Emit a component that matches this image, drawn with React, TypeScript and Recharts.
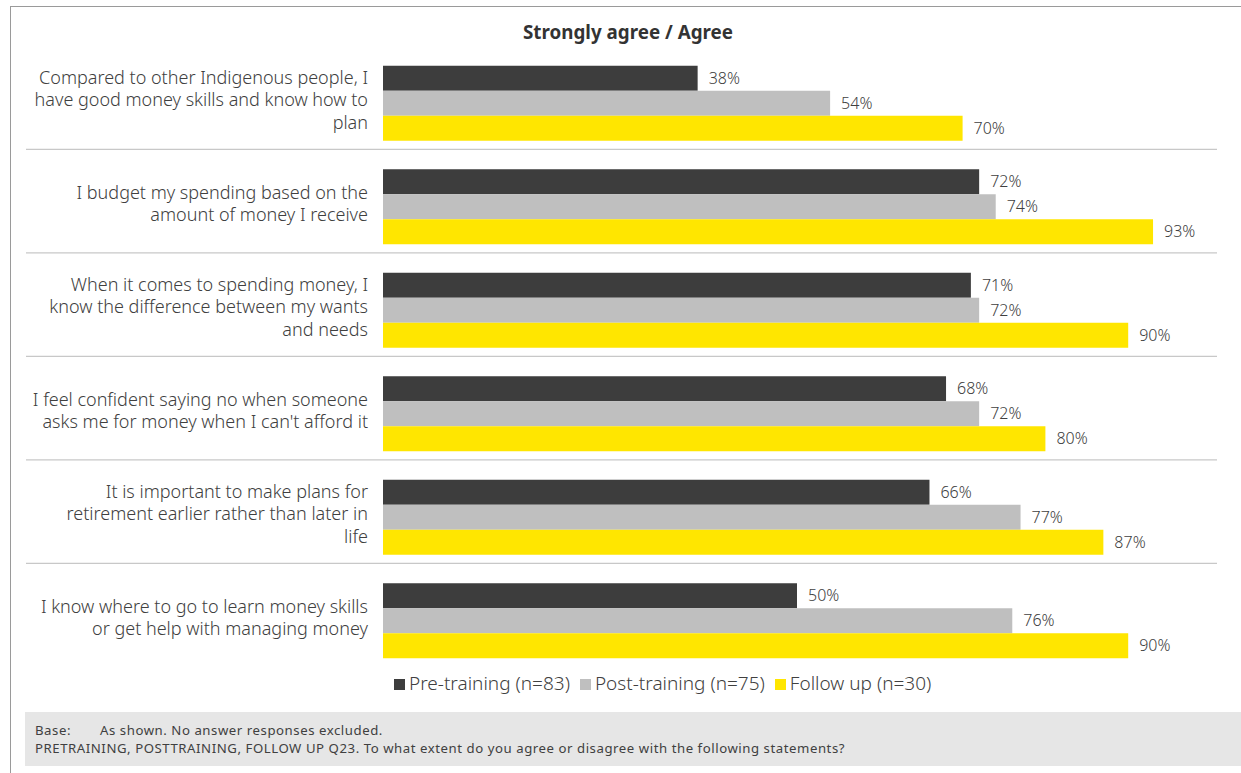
import {
  Bar,
  BarChart,
  CartesianGrid,
  LabelList,
  Legend,
  XAxis,
  YAxis,
} from 'recharts'

const statements = [
  'Compared to other Indigenous people, I\nhave good money skills and know how to\nplan',
  'I budget my spending based on the\namount of money I receive',
  'When it comes to spending money, I\nknow the difference between my wants\nand needs',
  'I feel confident saying no when someone\nasks me for money when I can\'t afford it',
  'It is important to make plans for\nretirement earlier rather than later in\nlife',
  'I know where to go to learn money skills\nor get help with managing money',
]

const preTraining = [38, 72, 71, 68, 66, 50]
const postTraining = [54, 74, 72, 72, 77, 76]
const followUp = [70, 93, 90, 80, 87, 90]

const seriesNames = ['Pre-training (n=83)', 'Post-training (n=75)', 'Follow up (n=30)']

const FONT = "'Noto Sans', sans-serif"
const TEXT = '#404040'

const data = statements.map((s, i) => ({
  statement: s,
  pre: preTraining[i],
  post: postTraining[i],
  follow: followUp[i],
}))

function StatementTick(props: any) {
  const { x, y, payload } = props
  const lines = String(payload.value).split('\n')
  const lineH = 22.5
  const base = y + 3.5 - ((lines.length - 1) / 2) * lineH
  return (
    <text x={x - 7} y={base} textAnchor="end" fill={TEXT} fontSize={18} fontWeight={300} fontFamily={FONT}>
      {lines.map((l, i) => (
        <tspan key={i} x={x - 7} y={base + i * lineH}>
          {l}
        </tspan>
      ))}
    </text>
  )
}

// separators sit just above each group boundary (one band per statement)
const separatorLines = (props: any) => {
  const { offset } = props
  const band = offset.height / statements.length
  return statements.slice(1).map((_, i) => offset.top + band * (i + 1) - band * 0.05)
}

const pct = (v: any) => `${v}%`

export default function App() {
  return (
    <div
      style={{
        position: 'absolute',
        left: 0,
        top: 0,
        width: 1241,
        height: 773,
        background: '#fff',
        fontFamily: FONT,
        overflow: 'hidden',
      }}
    >
      <div
        style={{
          position: 'absolute',
          left: 10,
          top: 6,
          width: 1240,
          height: 780,
          borderLeft: '1px solid #9a9a9a',
          borderTop: '1px solid #9a9a9a',
        }}
      />
      <div
        style={{
          position: 'absolute',
          left: 383,
          width: 490,
          top: 19,
          textAlign: 'center',
          fontWeight: 700,
          fontSize: 18.8,
          color: '#333',
        }}
      >
        Strongly agree / Agree
      </div>
      <div style={{ position: 'absolute', left: 0, top: 0 }}>
        <BarChart
          width={1241}
          height={700}
          data={data}
          layout="vertical"
          margin={{ top: 51, right: 30, left: 0, bottom: 28 }}
          barCategoryGap={14.7}
          barGap={0}
          style={{ fontFamily: FONT }}
        >
          <CartesianGrid
            vertical={false}
            x={26}
            width={1191}
            stroke="#c8c8c8"
            strokeWidth={1.2}
            horizontalCoordinatesGenerator={separatorLines}
          />
          <XAxis type="number" domain={[0, 100]} hide />
          <YAxis
            type="category"
            dataKey="statement"
            width={383}
            axisLine={false}
            tickLine={false}
            tick={<StatementTick />}
            interval={0}
          />
          <Legend
            verticalAlign="middle"
            layout="horizontal"
            iconType="square"
            iconSize={11}
            itemSorter={(item: any) => seriesNames.indexOf(item.value)}
            wrapperStyle={{ top: 670, left: 394, width: 'auto', fontSize: 19, fontWeight: 300 }}
            formatter={(value: any) => <span style={{ color: TEXT }}>{value}</span>}
          />
          <Bar dataKey="pre" name={seriesNames[0]} fill="#3d3d3d" isAnimationActive={false}>
            <LabelList dataKey="pre" position="right" offset={11} formatter={pct} fill={TEXT} fontSize={16} fontWeight={300} />
          </Bar>
          <Bar dataKey="post" name={seriesNames[1]} fill="#bfbfbf" isAnimationActive={false}>
            <LabelList dataKey="post" position="right" offset={11} formatter={pct} fill={TEXT} fontSize={16} fontWeight={300} />
          </Bar>
          <Bar dataKey="follow" name={seriesNames[2]} fill="#ffe600" isAnimationActive={false}>
            <LabelList dataKey="follow" position="right" offset={11} formatter={pct} fill={TEXT} fontSize={16} fontWeight={300} />
          </Bar>
        </BarChart>
      </div>
      <div
        style={{
          position: 'absolute',
          left: 25,
          top: 712,
          width: 1216,
          height: 54,
          background: '#e6e6e6',
          fontSize: 13.2,
          letterSpacing: 0.55,
          color: TEXT,
          lineHeight: '18.2px',
          boxSizing: 'border-box',
          padding: '9px 0 0 10px',
        }}
      >
        <div>
          <span style={{ display: 'inline-block', width: 65 }}>Base:</span>As shown. No answer responses excluded.
        </div>
        <div>
          PRETRAINING, POSTTRAINING, FOLLOW UP Q23. To what extent do you agree or disagree with the following statements?
        </div>
      </div>
    </div>
  )
}
